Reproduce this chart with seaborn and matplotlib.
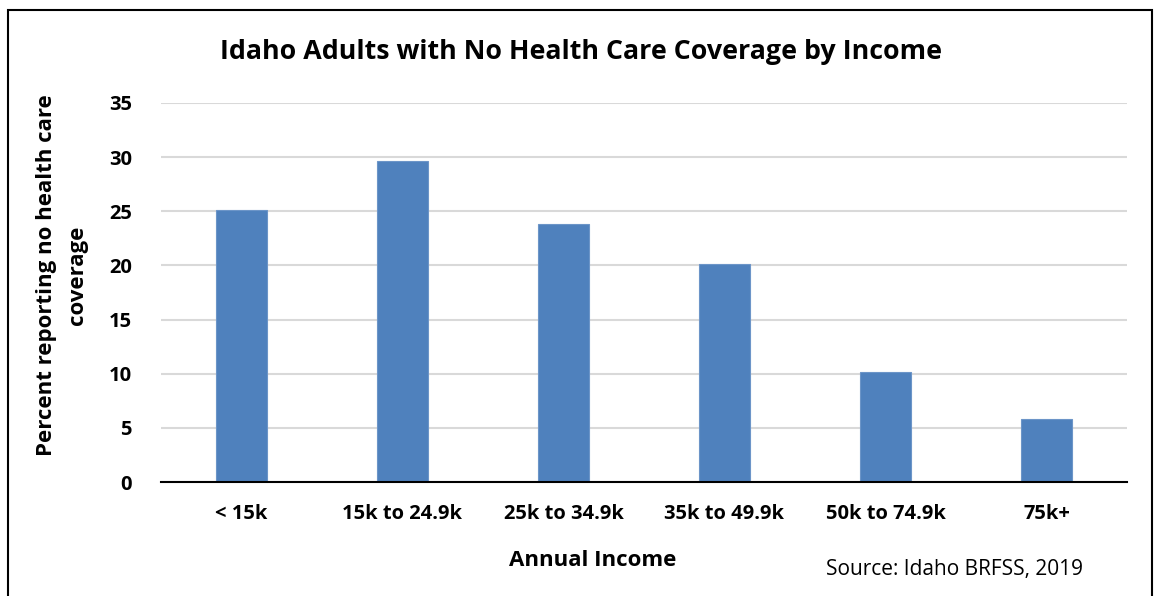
import matplotlib
matplotlib.use('Agg')
import matplotlib.pyplot as plt
import seaborn as sns
import pandas as pd
from matplotlib.patches import Rectangle

income = ['< 15k', '15k to 24.9k', '25k to 34.9k', '35k to 49.9k', '50k to 74.9k', '75k+']
pct_no_coverage = [25.1, 29.6, 23.8, 20.1, 10.2, 5.8]
y_ticks = [0, 5, 10, 15, 20, 25, 30, 35]

df = pd.DataFrame({'income': income, 'pct': pct_no_coverage})

sns.set_style('white')
plt.rcParams['font.family'] = ['Open Sans', 'DejaVu Sans']
plt.rcParams['text.color'] = 'black'
plt.rcParams['xtick.color'] = 'black'
plt.rcParams['ytick.color'] = 'black'

fig = plt.figure(figsize=(11.6, 5.96), dpi=100)
ax = fig.add_axes([161/1160, 1 - 482/596, (1127-161)/1160, (482-103)/596])

sns.barplot(data=df, x='income', y='pct', color='#4F81BD', saturation=1,
            width=0.32, ax=ax, edgecolor='#6C95C8', linewidth=0.8)

ax.set_ylim(0, 35)
ax.set_yticks(y_ticks)
ax.set_xlim(-0.5, 5.5)
ax.grid(axis='y', color='#D9D9D9', linewidth=1.5)
ax.set_axisbelow(True)
for s in ['top', 'right', 'left']:
    ax.spines[s].set_visible(False)
ax.spines['bottom'].set_color('black')
ax.spines['bottom'].set_linewidth(1.5)
ax.tick_params(axis='both', length=0, labelsize=14.5, pad=16)
for lab in ax.get_xticklabels() + ax.get_yticklabels():
    lab.set_fontweight('bold')
ax.tick_params(axis='y', pad=21)

ax.set_xlabel('')
ax.set_ylabel('')
fig.text(593/1160, 1 - 560/596, 'Annual Income', ha='center', va='center',
         fontsize=16, fontweight='bold')
fig.text(62/1160, 1 - 275/596, 'Percent reporting no health care\ncoverage',
         ha='center', va='center', rotation=90, fontsize=16, fontweight='bold',
         linespacing=1.6)
fig.text(581/1160, 1 - 52/596, 'Idaho Adults with No Health Care Coverage by Income',
         ha='center', va='center', fontsize=19.3, fontweight='bold')
fig.text(954/1160, 1 - 570/596, 'Source: Idaho BRFSS, 2019', ha='center', va='center',
         fontsize=15)

fig.patches.append(Rectangle((8/1160, -0.05), (1152-8)/1160, 1.05 - 10/596,
                             transform=fig.transFigure, fill=False,
                             edgecolor='black', linewidth=1.5))

fig.savefig('out.png', dpi=100)
